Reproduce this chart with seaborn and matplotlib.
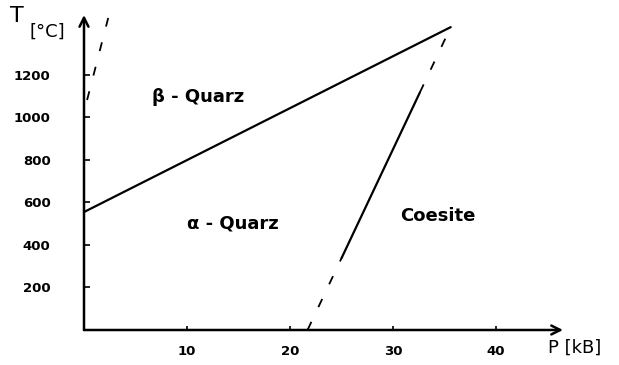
import matplotlib
matplotlib.use("Agg")
import matplotlib.pyplot as plt
import seaborn as sns
import numpy as np

# Phase diagram of SiO2: pressure P [kB] vs temperature T [°C]
# alpha/beta quartz boundary
ab_P = [0.0, 35.6]
ab_T = [555, 1425]

# quartz / coesite boundary: solid measured part, dashed extrapolations
coe_solid_P = [25.0, 32.6]
coe_solid_T = [338, 1117]
coe_low_P = [21.7, 25.0]
coe_low_T = [0, 338]
coe_high_P = [32.6, 35.6]
coe_high_T = [1117, 1425]

# steep dashed boundary near P = 0
steep_P = [0.3, 2.35]
steep_T = [1082, 1468]

x_ticks = [10, 20, 30, 40]
x_labels = ["10", "20", "30", "40"]
y_ticks = [200, 400, 600, 800, 1000, 1200]
y_labels = ["200", "400", "600", "800", "1000", "1200"]

sns.set_style("white")
plt.rcParams["font.family"] = ["DejaVu Sans"]
plt.rcParams["text.color"] = "black"
plt.rcParams["xtick.color"] = "black"
plt.rcParams["ytick.color"] = "black"
plt.rcParams["axes.labelcolor"] = "black"

W, H = 619, 365
fig = plt.figure(figsize=(W / 100, H / 100), dpi=100)
ax = fig.add_axes([84 / W, 35 / H, (563 - 84) / W, (330 - 15) / H])
ax.set_xlim(0, 46.5)
ax.set_ylim(0, 1482)

lw = 1.6
dash = (0, (5, 9))
sns.lineplot(x=ab_P, y=ab_T, ax=ax, color="black", linewidth=lw)
sns.lineplot(x=coe_solid_P, y=coe_solid_T, ax=ax, color="black", linewidth=lw)
sns.lineplot(x=coe_low_P, y=coe_low_T, ax=ax, color="black", linewidth=1.3, linestyle=dash)
sns.lineplot(x=coe_high_P, y=coe_high_T, ax=ax, color="black", linewidth=1.3, linestyle=dash)
sns.lineplot(x=steep_P, y=steep_T, ax=ax, color="black", linewidth=1.3, linestyle=dash)

for l in ax.lines:
    l.set_clip_on(False)

# axes: left and bottom only, with arrow heads
for s in ["top", "right", "left", "bottom"]:
    ax.spines[s].set_visible(False)
ax.annotate("", xy=(0, 1.0), xytext=(0, 0), xycoords="axes fraction",
            arrowprops=dict(arrowstyle="->", color="black", lw=1.8,
                            mutation_scale=16, shrinkA=0, shrinkB=0))
ax.annotate("", xy=(1.0, 0), xytext=(0, 0), xycoords="axes fraction",
            arrowprops=dict(arrowstyle="->", color="black", lw=1.8,
                            mutation_scale=16, shrinkA=0, shrinkB=0))

ax.set_xticks(x_ticks)
ax.set_xticklabels(x_labels, fontsize=9.5, fontweight="bold")
ax.set_yticks(y_ticks)
ax.set_yticklabels(y_labels, fontsize=9.5, fontweight="bold")
ax.tick_params(axis="y", direction="in", length=4, width=1.2, pad=24, left=True)
ax.tick_params(axis="x", direction="in", length=3, width=1.2, pad=11, bottom=True)
ax.grid(False)

# region and axis labels
ax.text(11.1, 1096, "β - Quarz", fontsize=13, fontweight="bold", ha="center", va="center")
ax.text(14.5, 503, "α - Quarz", fontsize=13, fontweight="bold", ha="center", va="center")
ax.text(34.3, 536, "Coesite", fontsize=13, fontweight="bold", ha="center", va="center")
ax.text(47.6, -85, "P [kB]", fontsize=13, ha="center", va="center", clip_on=False)
ax.text(-6.5, 1475, "T", fontsize=16, ha="center", va="center", clip_on=False)
ax.text(-3.6, 1405, "[°C]", fontsize=13, ha="center", va="center", clip_on=False)

fig.savefig("out.png", dpi=100, facecolor="white")
